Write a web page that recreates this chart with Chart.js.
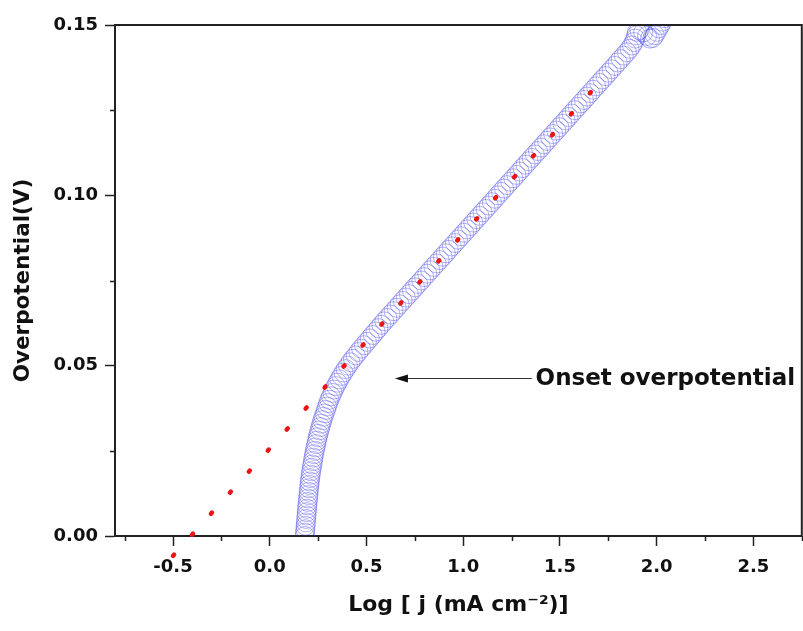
<!DOCTYPE html>
<html>
<head>
<meta charset="utf-8">
<script src="https://cdn.jsdelivr.net/npm/chart.js@4.4.1/dist/chart.umd.min.js"></script>
<style>
  html, body { margin: 0; padding: 0; background: #fff; overflow: hidden; }
  canvas { display: block; }
</style>
</head>
<body>
<canvas id="tafel" width="812" height="631"></canvas>
<script>
// measured curve: log j (x) vs overpotential in V (y)
const logJ = [
  0.181, 0.182, 0.184, 0.185, 0.187, 0.188, 0.190, 0.191, 0.193, 0.194,
  0.196, 0.198, 0.200, 0.201, 0.203, 0.205, 0.207, 0.209, 0.212, 0.214,
  0.217, 0.220, 0.223, 0.226, 0.229, 0.233, 0.236, 0.240, 0.244, 0.248,
  0.252, 0.257, 0.262, 0.267, 0.272, 0.278, 0.284, 0.290, 0.296, 0.302,
  0.308, 0.316, 0.324, 0.332, 0.341, 0.350, 0.360, 0.370, 0.381, 0.392,
  0.404, 0.417, 0.430, 0.444, 0.458, 0.472, 0.487, 0.502, 0.517, 0.532,
  0.547, 0.562, 0.577, 0.592, 0.608, 0.624, 0.640, 0.656, 0.671, 0.687,
  0.703, 0.719, 0.735, 0.751, 0.767, 0.783, 0.798, 0.814, 0.830, 0.846,
  0.862, 0.878, 0.894, 0.910, 0.925, 0.941, 0.957, 0.973, 0.989, 1.005,
  1.021, 1.037, 1.052, 1.068, 1.084, 1.100, 1.116, 1.132, 1.148, 1.164,
  1.179, 1.195, 1.211, 1.227, 1.243, 1.259, 1.275, 1.291, 1.306, 1.322,
  1.338, 1.354, 1.370, 1.386, 1.402, 1.418, 1.433, 1.449, 1.465, 1.481,
  1.497, 1.513, 1.529, 1.544, 1.560, 1.576, 1.592, 1.608, 1.624, 1.640,
  1.656, 1.671, 1.687, 1.703, 1.719, 1.735, 1.751, 1.767, 1.783, 1.798,
  1.814, 1.830, 1.846, 1.860, 1.872, 1.882, 1.889, 1.894, 1.898,
  1.910, 1.930, 1.950, 1.965, 1.980, 1.990, 2.000, 2.010, 2.020, 2.030, 2.040
];
const overpot = [
  0.000, 0.001, 0.002, 0.003, 0.004, 0.005, 0.006, 0.007, 0.008, 0.009,
  0.010, 0.011, 0.012, 0.013, 0.014, 0.015, 0.016, 0.017, 0.018, 0.019,
  0.020, 0.021, 0.022, 0.023, 0.024, 0.025, 0.026, 0.027, 0.028, 0.029,
  0.030, 0.031, 0.032, 0.033, 0.034, 0.035, 0.036, 0.037, 0.038, 0.039,
  0.040, 0.041, 0.042, 0.043, 0.044, 0.045, 0.046, 0.047, 0.048, 0.049,
  0.050, 0.051, 0.052, 0.053, 0.054, 0.055, 0.056, 0.057, 0.058, 0.059,
  0.060, 0.061, 0.062, 0.063, 0.064, 0.065, 0.066, 0.067, 0.068, 0.069,
  0.070, 0.071, 0.072, 0.073, 0.074, 0.075, 0.076, 0.077, 0.078, 0.079,
  0.080, 0.081, 0.082, 0.083, 0.084, 0.085, 0.086, 0.087, 0.088, 0.089,
  0.090, 0.091, 0.092, 0.093, 0.094, 0.095, 0.096, 0.097, 0.098, 0.099,
  0.100, 0.101, 0.102, 0.103, 0.104, 0.105, 0.106, 0.107, 0.108, 0.109,
  0.110, 0.111, 0.112, 0.113, 0.114, 0.115, 0.116, 0.117, 0.118, 0.119,
  0.120, 0.121, 0.122, 0.123, 0.124, 0.125, 0.126, 0.127, 0.128, 0.129,
  0.130, 0.131, 0.132, 0.133, 0.134, 0.135, 0.136, 0.137, 0.138, 0.139,
  0.140, 0.141, 0.142, 0.143, 0.144, 0.145, 0.146, 0.147, 0.148,
  0.1485, 0.1478, 0.1468, 0.1460, 0.1462, 0.1470, 0.1480, 0.1490, 0.1500, 0.1510, 0.1520
];

// Tafel fit (red dotted line) end points
const fitX = [-0.5, 1.75];
const fitY = [-0.0058, 0.136];

// ticks
const xMinorTicks = [-0.75, -0.25, 0.25, 0.75, 1.25, 1.75, 2.25, 2.75];
const yMinorTicks = [0.025, 0.075, 0.125];

// annotation (arrow + label), in data units
const arrowTip = [0.647, 0.0463];
const arrowTail = [1.354, 0.0463];
const noteText = "Onset overpotential";
const notePos = [1.374, 0.0443];

const FONT = "'DejaVu Sans', sans-serif";
const INK = "#111";

// minor ticks + top/right frame + arrow note
const extras = {
  id: "extras",
  afterDraw(chart) {
    const { ctx, chartArea: a, scales: { x, y } } = chart;
    ctx.save();
    ctx.strokeStyle = "#222";
    ctx.lineWidth = 1.5;
    ctx.beginPath();
    xMinorTicks.forEach((v) => {
      const px = Math.round(x.getPixelForValue(v)) + 0.5;
      ctx.moveTo(px, a.bottom);
      ctx.lineTo(px, a.bottom + 5);
    });
    yMinorTicks.forEach((v) => {
      const py = Math.round(y.getPixelForValue(v)) + 0.5;
      ctx.moveTo(a.left - 5, py);
      ctx.lineTo(a.left, py);
    });
    ctx.stroke();

    // frame top and right
    ctx.lineWidth = 2;
    ctx.beginPath();
    ctx.moveTo(a.left, a.top);
    ctx.lineTo(a.right, a.top);
    ctx.lineTo(a.right, a.bottom);
    ctx.stroke();

    // arrow
    const tx = x.getPixelForValue(arrowTip[0]);
    const ty = Math.round(y.getPixelForValue(arrowTip[1])) + 0.5;
    const sx = x.getPixelForValue(arrowTail[0]);
    ctx.strokeStyle = "#333";
    ctx.lineWidth = 1;
    ctx.beginPath();
    ctx.moveTo(sx, ty);
    ctx.lineTo(tx + 10, ty);
    ctx.stroke();
    ctx.fillStyle = "#111";
    ctx.beginPath();
    ctx.moveTo(tx, ty);
    ctx.lineTo(tx + 13, ty - 4);
    ctx.lineTo(tx + 13, ty + 4);
    ctx.closePath();
    ctx.fill();

    ctx.font = "bold 23px " + FONT;
    ctx.fillStyle = INK;
    ctx.textBaseline = "alphabetic";
    ctx.fillText(noteText, x.getPixelForValue(notePos[0]), y.getPixelForValue(notePos[1]));
    ctx.restore();
  }
};

new Chart(document.getElementById("tafel"), {
  type: "scatter",
  data: {
    datasets: [
      {
        label: "Tafel fit",
        data: fitX.map((v, i) => ({ x: v, y: fitY[i] })),
        showLine: true,
        borderColor: "rgb(235,20,20)",
        borderWidth: 4.5,
        borderDash: [1.5, 26.8],
        borderCapStyle: "round",
        pointRadius: 0,
        clip: false
      },
      {
        label: "LSV",
        data: logJ.map((v, i) => ({ x: v, y: overpot[i] })),
        pointStyle: "circle",
        pointRadius: 9.5,
        borderWidth: 0.7,
        borderColor: "rgba(40,40,235,0.5)",
        backgroundColor: "rgba(0,0,0,0)"
      }
    ]
  },
  options: {
    responsive: false,
    devicePixelRatio: 1,
    animation: false,
    layout: { padding: { left: 0, top: 25, right: 2, bottom: 0 } },
    plugins: { legend: { display: false }, tooltip: { enabled: false } },
    scales: {
      x: {
        type: "linear",
        min: -0.8,
        max: 2.75,
        border: { color: "#222", width: 2 },
        grid: { drawOnChartArea: false, tickLength: 10, tickWidth: 1.5, tickColor: "#222" },
        ticks: {
          stepSize: 0.5,
          includeBounds: false,
          padding: 11,
          color: INK,
          font: { family: FONT, size: 18, weight: "bold" },
          callback: (v) => v.toFixed(1)
        },
        title: {
          display: true,
          text: "Log [ j (mA cm⁻²)]",
          color: INK,
          font: { family: FONT, size: 22, weight: "bold" },
          padding: { top: 0, bottom: 13 }
        },
        afterFit: (s) => { s.height = 95; s.paddingLeft = 0; s.paddingRight = 0; }
      },
      y: {
        type: "linear",
        min: 0,
        max: 0.15,
        border: { color: "#222", width: 2 },
        grid: { drawOnChartArea: false, tickLength: 10, tickWidth: 1.5, tickColor: "#222" },
        ticks: {
          stepSize: 0.05,
          padding: 7,
          color: INK,
          font: { family: FONT, size: 18, weight: "bold" },
          callback: (v) => v.toFixed(2)
        },
        title: {
          display: true,
          text: "Overpotential(V)",
          color: INK,
          font: { family: FONT, size: 21.5, weight: "bold" },
          padding: { top: 11, bottom: 0 }
        },
        afterFit: (s) => { s.width = 115; }
      }
    }
  },
  plugins: [extras]
});
</script>
</body>
</html>
